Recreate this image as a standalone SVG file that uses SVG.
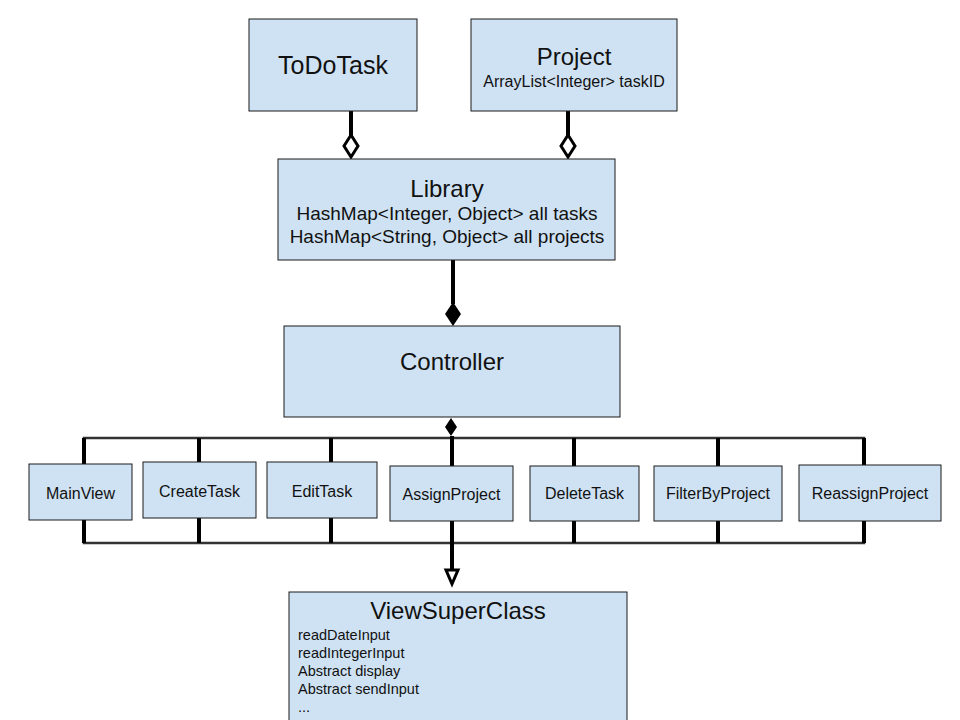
<svg xmlns="http://www.w3.org/2000/svg" width="960" height="720" viewBox="0 0 960 720">
<style>
.box{fill:#cfe2f3;stroke:#1a1a1a;stroke-width:1}
text{font-family:"Liberation Sans",Arial,sans-serif;fill:#111}
.t{text-anchor:middle}
.s{font-size:16px}
.l{font-size:14.5px}
.thick{stroke:#000;stroke-width:4;fill:none}
.bar{stroke:#333;stroke-width:2.5;fill:none}
</style>
<rect width="960" height="720" fill="#fff"/>
<g id="connectors">
<line class="thick" x1="351" y1="111" x2="351" y2="136"/>
<path d="M351,135 L358,146 L351,157 L344,146 Z" fill="#fff" stroke="#000" stroke-width="3"/>
<line class="thick" x1="568" y1="111" x2="568" y2="136"/>
<path d="M568,135 L575,146 L568,157 L561,146 Z" fill="#fff" stroke="#000" stroke-width="3"/>
<line class="thick" x1="453" y1="260" x2="453" y2="304"/>
<path d="M453,302 L461,314 L453,326 L445,314 Z" fill="#000"/>
<path d="M451,418 L457,427 L451,436 L445,427 Z" fill="#000"/>
<polyline class="bar" points="84,464 84,438 864,438 864,465"/>
<line class="thick" x1="84" y1="438" x2="84" y2="464"/>
<line class="thick" x1="199" y1="438" x2="199" y2="462"/>
<line class="thick" x1="331" y1="438" x2="331" y2="462"/>
<line class="thick" x1="452" y1="436" x2="452" y2="466"/>
<line class="thick" x1="574" y1="438" x2="574" y2="466"/>
<line class="thick" x1="718" y1="438" x2="718" y2="466"/>
<line class="thick" x1="864" y1="438" x2="864" y2="465"/>
<polyline class="bar" points="84,520 84,543 864,543 864,521"/>
<line class="thick" x1="84" y1="520" x2="84" y2="543"/>
<line class="thick" x1="199" y1="518" x2="199" y2="543"/>
<line class="thick" x1="331" y1="518" x2="331" y2="543"/>
<line class="thick" x1="452" y1="521" x2="452" y2="570"/>
<line class="thick" x1="574" y1="521" x2="574" y2="543"/>
<line class="thick" x1="718" y1="521" x2="718" y2="543"/>
<line class="thick" x1="864" y1="521" x2="864" y2="543"/>
<path d="M446,570 L458,570 L452,584 Z" fill="#fff" stroke="#000" stroke-width="3"/>
</g>
<g id="ToDoTask"><rect class="box" x="249" y="19" width="168" height="92"/><text class="t" x="333" y="74" font-size="25">ToDoTask</text></g>
<g id="Project"><rect class="box" x="471" y="19" width="206" height="92"/><text class="t" x="574" y="65" font-size="24">Project</text><text class="t" x="574" y="87" font-size="16">ArrayList&lt;Integer&gt; taskID</text></g>
<g id="Library"><rect class="box" x="278" y="159" width="337" height="101"/><text class="t" x="447" y="197" font-size="24">Library</text><text class="t" x="447" y="220" font-size="19">HashMap&lt;Integer, Object&gt; all tasks</text><text class="t" x="447" y="243" font-size="19">HashMap&lt;String, Object&gt; all projects</text></g>
<g id="Controller"><rect class="box" x="284" y="326" width="336" height="91"/><text class="t" x="452" y="370" font-size="24">Controller</text></g>
<g id="MainView"><rect class="box" x="29" y="464" width="103" height="56"/><text class="t s" x="80.5" y="499">MainView</text></g>
<g id="CreateTask"><rect class="box" x="143" y="462" width="113" height="56"/><text class="t s" x="199.5" y="497">CreateTask</text></g>
<g id="EditTask"><rect class="box" x="267" y="462" width="110" height="56"/><text class="t s" x="322" y="497">EditTask</text></g>
<g id="AssignProject"><rect class="box" x="390" y="466" width="123" height="55"/><text class="t s" x="451.5" y="500">AssignProject</text></g>
<g id="DeleteTask"><rect class="box" x="530" y="466" width="109" height="55"/><text class="t s" x="584.5" y="499">DeleteTask</text></g>
<g id="FilterByProject"><rect class="box" x="654" y="466" width="128" height="55"/><text class="t s" x="718" y="499">FilterByProject</text></g>
<g id="ReassignProject"><rect class="box" x="799" y="465" width="142" height="56"/><text class="t s" x="870" y="499">ReassignProject</text></g>
<g id="ViewSuperClass"><rect class="box" x="289" y="592" width="338" height="140"/><text class="t" x="458" y="619" font-size="24">ViewSuperClass</text>
<text class="l" x="298" y="640">readDateInput</text>
<text class="l" x="298" y="658">readIntegerInput</text>
<text class="l" x="298" y="676">Abstract display</text>
<text class="l" x="298" y="694">Abstract sendInput</text>
<text class="l" x="298" y="712">...</text></g>
</svg>
